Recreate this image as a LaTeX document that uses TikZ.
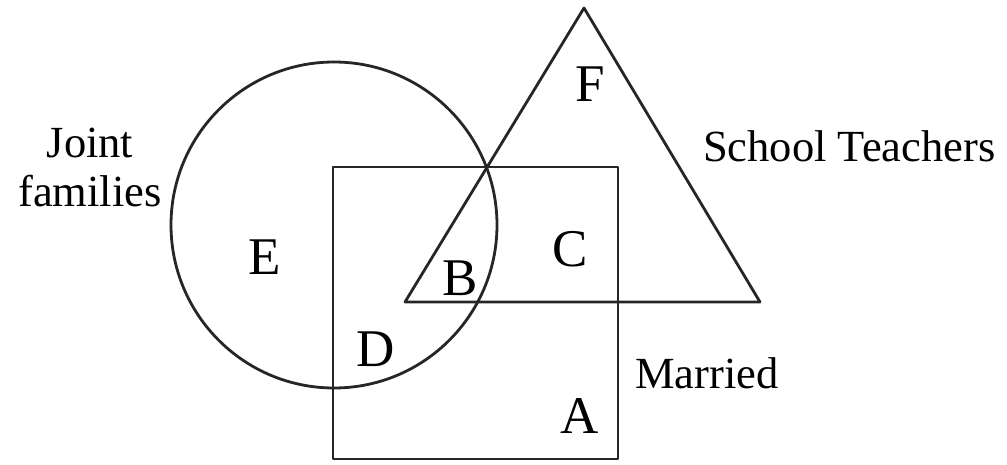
\documentclass[tikz,border=0pt]{standalone}
\usepackage{fontspec}
\setmainfont{Liberation Serif}
\begin{document}
\begin{tikzpicture}[x=1pt,y=-1pt,
  shape line/.style={draw=black!85,line width=2.8pt,line join=round},
  region/.style={inner sep=0pt,anchor=base,font=\fontsize{53}{60}\selectfont},
  setname/.style={inner sep=0pt,anchor=base,font=\fontsize{44.5}{50}\selectfont}]
\useasboundingbox (0,0) rectangle (1007,465);
% shapes
\coordinate (cc) at (334,225);
\draw[shape line] (cc) circle[radius=163];
\coordinate (r1) at (333,167);
\coordinate (r2) at (618,459);
\draw[shape line] (r1) rectangle (r2);
\coordinate (t1) at (584,8);
\coordinate (t2) at (405,302);
\coordinate (t3) at (760,302);
\draw[shape line] (t1) -- (t2) -- (t3) -- cycle;
% region letters
\node[region] (F) at (590,102) {F};
\node[region] (C) at (570,267) {C};
\node[region] (E) at (265,274) {E};
\node[region] (B) at (460,295) {B};
\node[region] (D) at (376,366) {D};
\node[region] (A) at (580,433) {A};
% set names
\node[setname] (joint) at (90,158) {Joint};
\node[setname] (fam) at (90,207) {families};
\node[setname,anchor=base west] (school) at (703,162) {School Teachers};
\node[setname,anchor=base west] (married) at (635,388) {Married};
\end{tikzpicture}
\end{document}
